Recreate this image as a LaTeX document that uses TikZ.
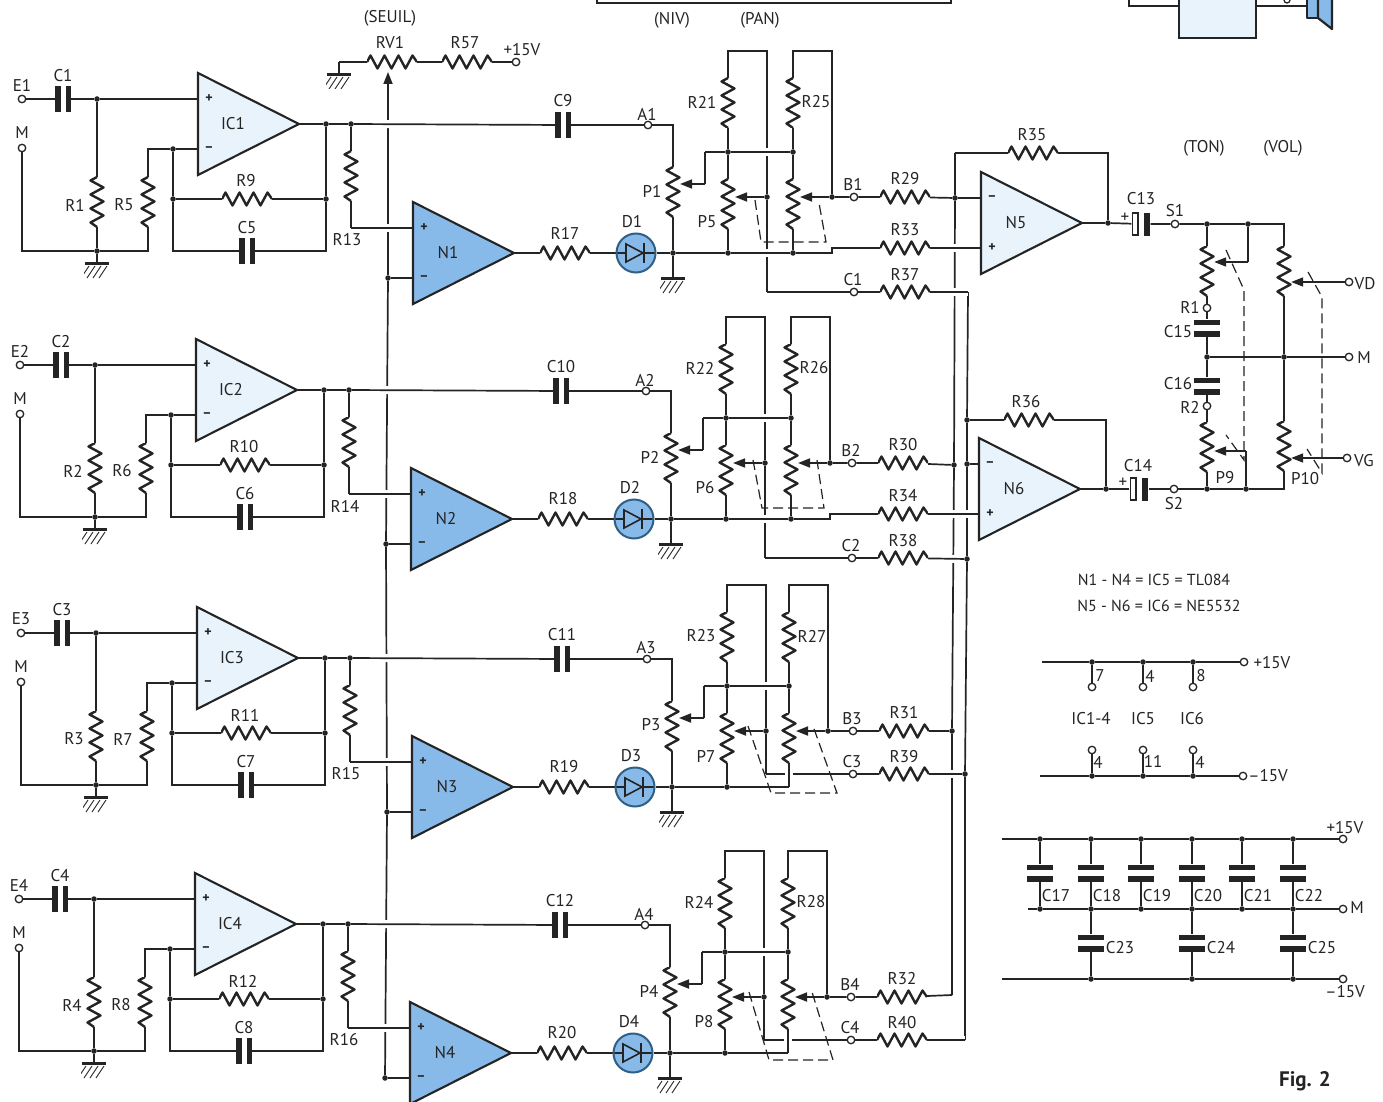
\documentclass[tikz,border=0pt]{standalone}
\usepackage{fontspec}
\setmainfont{PT Sans}
\usetikzlibrary{arrows.meta,calc}
\definecolor{ink}{HTML}{242424}
\definecolor{opblue}{HTML}{88BAE9}
\definecolor{oplight}{HTML}{E8F3FB}
\definecolor{dioline}{HTML}{2F5F85}
\pgfdeclarelayer{buslayer}\pgfdeclarelayer{wirelayer}
\pgfsetlayers{buslayer,wirelayer,main}
\newcounter{lb}
\newcommand\lbl[3]{\stepcounter{lb}\node[txt] (lab\arabic{lb}) at (#1,#2) {#3};}
% name, left x, centre y, fill, top sign, bottom sign, label
\newcommand\opamp[7]{%
  \draw[line width=2.1pt,draw=ink,fill=#4,line join=miter] (#2,#3-51) -- (#2,#3+51) -- (#2+101,#3) -- cycle;
  \coordinate (#1-t) at (#2,#3-25);
  \coordinate (#1-b) at (#2,#3+25);
  \coordinate (#1-o) at (#2+101,#3);
  \lbl{#2+11}{#3-25}{\fontsize{14}{14}\selectfont\bfseries #5}
  \lbl{#2+11}{#3+25}{\fontsize{14}{14}\selectfont\bfseries #6}
  \lbl{#2+35}{#3}{#7}
}
\tikzset{
  txt/.style={inner sep=0pt,font=\fontsize{17}{19}\selectfont,text=ink},
  wire/.style={line width=1.7pt,draw=ink},
  halo/.style={preaction={draw=white,line width=8pt}},
  arrowed/.style={wire,-{Triangle[length=12pt,width=9pt]}},
  term/.style={circle,draw=ink,fill=white,line width=1.3pt,inner sep=0pt,minimum size=7.5pt},
  jdot/.style={circle,fill=ink,inner sep=0pt,minimum size=5.5pt},
  hres/.style={rectangle,inner sep=0pt,minimum width=50pt,minimum height=20pt,
    path picture={\draw[line width=2.4pt,draw=ink,line join=round]
      ([xshift=-25pt]path picture bounding box.center) -- ++(3.5,-6.5) -- ++(7,13) -- ++(7,-13) -- ++(7,13) -- ++(7,-13) -- ++(7,13) -- ++(7,-13) -- ++(4.5,6.5);}},
  vres/.style={rectangle,inner sep=0pt,minimum width=18pt,minimum height=50pt,
    path picture={\draw[line width=2.4pt,draw=ink,line join=round]
      ([yshift=25pt]path picture bounding box.center) -- ++(-6.5,3.5) -- ++(13,7) -- ++(-13,7) -- ++(13,7) -- ++(-13,7) -- ++(13,7) -- ++(-13,7) -- ++(6.5,4.5);}},
  hcap/.style={rectangle,inner sep=0pt,minimum width=16pt,minimum height=26pt,
    path picture={\fill[ink] ([shift={(-8,-13)}]path picture bounding box.center) rectangle ++(5.5,26);
      \fill[ink] ([shift={(2.5,-13)}]path picture bounding box.center) rectangle ++(5.5,26);}},
  vcap/.style={rectangle,inner sep=0pt,minimum width=26pt,minimum height=17pt,
    path picture={\fill[ink] ([shift={(-13,-8.5)}]path picture bounding box.center) rectangle ++(26,5.5);
      \fill[ink] ([shift={(-13,3)}]path picture bounding box.center) rectangle ++(26,5.5);}},
  pcap/.style={rectangle,inner sep=0pt,minimum width=19pt,minimum height=24pt,
    path picture={\draw[ink,line width=1.3pt] ([shift={(-8.5,-11)}]path picture bounding box.center) rectangle ++(5.5,22);
      \fill[ink] ([shift={(2.5,-11.5)}]path picture bounding box.center) rectangle ++(6,23);}},
  gnd/.style={rectangle,inner sep=0pt,minimum width=26pt,minimum height=16pt,
    path picture={\draw[ink,line width=3pt] ([shift={(-12,-6.5)}]path picture bounding box.center) -- ++(24,0);
      \foreach \hx in {-8,-2,4,10}{\draw[ink,line width=.9pt] ([shift={(\hx,-4)}]path picture bounding box.center) -- ++(-8,12);}}},
  diode/.style={circle,inner sep=0pt,minimum size=39pt,fill=opblue,draw=dioline,line width=2pt,
    path picture={
      \draw[ink,line width=1.6pt] ([shift={(-10,-9)}]path picture bounding box.center) -- ++(0,18) -- ++(17,-9) -- cycle;
      \draw[ink,line width=2.8pt] ([shift={(8,-10)}]path picture bounding box.center) -- ++(0,20);
      \draw[ink,line width=1.7pt] ([shift={(-20,0)}]path picture bounding box.center) -- ++(10,0);
      \draw[ink,line width=1.7pt] ([shift={(7,0)}]path picture bounding box.center) -- ++(13,0);}},
  dashl/.style={draw=ink,line width=1.2pt,dash pattern=on 10pt off 5pt},
}
\begin{document}
\begin{tikzpicture}[x=1pt,y=-1pt]
\useasboundingbox (0,0) rectangle (1383,1102);
\begin{pgfonlayer}{buslayer}
\fill[white] (0,0) rectangle (1383,1102);
\end{pgfonlayer}
% clipped drawings at the top edge
\draw[line width=2.4pt,draw=ink] (597,0) -- (597,3) -- (951,3) -- (951,0);
\draw[wire] (1129,0) -- (1129,6) -- (1179,6);
\draw[line width=2.2pt,draw=ink,fill=oplight] (1179,0) -- (1179,38) -- (1256,38) -- (1256,0);
\draw[wire] (1256,6) -- (1307,6);
\draw[line width=1.3pt,draw=ink] (1287,0) circle (3pt);
\draw[line width=2.2pt,draw=ink,fill=opblue,line join=round] (1307,0) -- (1307,18) -- (1318,18) -- (1318,0);
\draw[line width=2.2pt,draw=ink,fill=opblue,line join=round] (1318,0) -- (1318,18) -- (1332,29) -- (1332,0);
\lbl{390}{18}{(SEUIL)}
\lbl{672}{20}{(NIV)}
\lbl{760}{20}{(PAN)}
\lbl{1204}{148}{(TON)}
\lbl{1283}{148}{(VOL)}
% threshold divider
\node[gnd] (Gv) at (339,81) {};
\coordinate (cGv) at (339,62);
\node[hres] (RV1) at (392,62) {};
\node[hres] (R57) at (467,62) {};
\node[term] (tV) at (516,62) {};
\coordinate (tipV) at (388,72);
\lbl{390}{43}{RV1}
\lbl{465}{43}{R57}
\lbl{522}{50}{+15V}
% output amplifiers
\opamp{N5}{981}{223}{oplight}{–}{+}{N5}
\opamp{N6}{979}{489}{oplight}{–}{+}{N6}
% bus nodes
\node[jdot] (busB1) at (955,198) {};
\node[jdot] (busB2) at (954,465) {};
\node[jdot] (busB3) at (952,731) {};
\coordinate (busB4) at (952,995);
\coordinate (busC1) at (968,292);
\node[jdot] (busC2) at (967,559) {};
\node[jdot] (busC3) at (965,774) {};
\coordinate (busC4) at (965,1040);
\node[jdot] (busF6) at (967,420) {};
\node[jdot] (busI6) at (967,464) {};
\coordinate (busF5) at (955,153);
% channels
\foreach \n/\dx/\dy/\rx in {1/0/0/793,2/-2/266/793,3/-1/534/790,4/-3/800/791}{
\pgfmathtruncatemacro\rA{\n+4}
\pgfmathtruncatemacro\rB{\n+8}
\pgfmathtruncatemacro\rC{\n+12}
\pgfmathtruncatemacro\rD{\n+16}
\pgfmathtruncatemacro\rE{\n+20}
\pgfmathtruncatemacro\rF{\n+24}
\pgfmathtruncatemacro\rG{\n+28}
\pgfmathtruncatemacro\rH{\n+32}
\pgfmathtruncatemacro\rI{\n+36}
\ifnum\n<3 \def\cy{292}\else\def\cy{240}\fi
\begin{scope}[shift={(\dx,\dy)}]
  \node[term] (tE\n) at (22,99) {};
  \node[term] (tM\n) at (22,148) {};
  \node[hcap] (C\n) at (63,99) {};
  \node[jdot] (jA\n) at (97,99) {};
  \node[vres] (R\n) at (97,202) {};
  \node[vres] (R\rA) at (148,202) {};
  \node[jdot] (jG\n) at (97,251) {};
  \coordinate (cM\n) at (22,251);
  \coordinate (cRr\n) at (148,251);
  \coordinate (cRt\n) at (148,149);
  \node[gnd] (Ga\n) at (97,270) {};
  \opamp{IC\n}{198}{124}{oplight}{+}{–}{IC\n}
  \node[jdot] (jM\n) at (173,149) {};
  \node[jdot] (jFb\n) at (173,199) {};
  \node[jdot] (jFo\n) at (326,199) {};
  \node[hres] (R\rB) at (247,199) {};
  \node[hcap] (C\rA) at (247,251) {};
  \coordinate (cCa\n) at (173,251);
  \coordinate (cCb\n) at (326,251);
  \node[jdot] (jO\n) at (326,124) {};
  \node[jdot] (jOs\n) at (351,124) {};
  \node[vres] (R\rC) at (351,176) {};
  \coordinate (cI\n) at (351,228);
  \opamp{N\n}{413}{253}{opblue}{+}{–}{N\n}
  \node[jdot] (jN\n) at (388,278) {};
  \node[hres] (R\rD) at (565,253) {};
  \node[diode] (D\n) at (636,253) {};
  \node[jdot] (jP\n) at (673,253) {};
  \node[gnd] (Gb\n) at (673,285) {};
  \node[hcap] (C\rB) at (563,125) {};
  \node[term] (tA\n) at (648,125) {};
  \coordinate (cA\n) at (673,125);
  \node[vres] (P\n) at (673,192) {};
  \coordinate (wP\n) at (680,184);
  \node[vres] (R\rE) at (728,103) {};
  \node[vres] (R\rF) at (\rx,103) {};
  \coordinate (tLa\n) at (728,51);
  \coordinate (tLb\n) at (767,51);
  \coordinate (tRa\n) at (\rx,51);
  \coordinate (tRb\n) at (\rx+39,51);
  \node[jdot] (jXa\n) at (728,152) {};
  \node[jdot] (jXb\n) at (\rx,152) {};
  \coordinate (cX\n) at (705,152);
  \coordinate (cW\n) at (705,184);
  \node[vres] (P\rA) at (728,204) {};
  \node[vres] (Pr\n) at (\rx,204) {};
  \node[jdot] (jRa\n) at (728,253) {};
  \node[jdot] (jWa\n) at (767,197) {};
  \node[jdot] (jWb\n) at (\rx+39,197) {};
  \coordinate (wa\n) at (735,197);
  \coordinate (wb\n) at (\rx+7,197);
  \node[term] (tB\n) at (854,197) {};
  \node[hres] (R\rG) at (905,197) {};
  \coordinate (cLow\n) at (767,\cy);
  \node[term] (tC\n) at (854,\cy) {};
  \node[hres] (R\rI) at (905,\cy) {};
  % labels
  \lbl{22}{85}{E\n}
  \lbl{22}{133}{M}
  \lbl{63}{76}{C\n}
  \lbl{75}{205}{R\n}
  \lbl{124}{205}{R\rA}
  \lbl{246}{181}{R\rB}
  \lbl{247}{228}{C\rA}
  \lbl{347}{240}{R\rC}
  \lbl{565}{233}{R\rD}
  \lbl{632}{222}{D\n}
  \lbl{563}{101}{C\rB}
  \lbl{647}{114}{A\n}
  \lbl{652}{191}{P\n}
  \lbl{702}{102}{R\rE}
  \lbl{\rx+23}{102}{R\rF}
  \lbl{707}{222}{P\rA}
  \lbl{853}{185}{B\n}
  \lbl{905}{179}{R\rG}
  \ifnum\n<3
    \lbl{853}{280}{C\n}
    \lbl{905}{275}{R\rI}
  \else
    \lbl{853}{228}{C\n}
    \lbl{905}{223}{R\rI}
  \fi
  \begin{pgfonlayer}{buslayer}
    \draw[wire] (R\rE) -- (tLa\n) -- (tLb\n) -- (jWa\n) -- (cLow\n);
  \end{pgfonlayer}
  \begin{pgfonlayer}{wirelayer}
    % wires that interrupt those they cross come first
    \draw[wire,halo] (jOs\n) -- (C\rB);
    \draw[wire,halo] (cI\n) -- (N\n-t);
    \draw[wire,halo] (cX\n) -- (jXa\n) -- (jXb\n);
    \draw[wire] (jP\n) -- (jRa\n);
    \ifnum\n<3
      \node[jdot] (jRb\n) at (\rx,253) {};
      \coordinate (cRs\n) at (\rx+39,253);
      \coordinate (cRu\n) at (\rx+39,248);
      \node[hres] (R\rH) at (905,248) {};
      \lbl{905}{230}{R\rH}
      \pgfmathtruncatemacro\oa{\n+4}
      \draw[wire,halo] (jRa\n) -- (jRb\n) -- (cRs\n) -- (cRu\n) -- (R\rH) -- (N\oa-b);
      \draw[wire,halo] (R\rI) -- (busC\n);
      \draw[wire] (Pr\n) -- (jRb\n);
      \draw[wire] (cLow\n) -- (tC\n) -- (R\rI);
    \else
      \coordinate (cR\n) at (\rx,253);
      \draw[wire,halo] (R\rI) -- (busC\n);
      \draw[wire] (cLow\n) -- (tC\n) -- (R\rI);
      \draw[wire,halo] (Pr\n) -- (cR\n);
      \draw[wire] (jRa\n) -- (cR\n);
    \fi
    \draw[wire] (tE\n) -- (C\n) -- (jA\n) -- (IC\n-t);
    \draw[wire] (jA\n) -- (R\n) -- (jG\n);
    \draw[wire] (tM\n) -- (cM\n) -- (jG\n) -- (cRr\n) -- (R\rA);
    \draw[wire] (R\rA) -- (cRt\n) -- (jM\n) -- (IC\n-b);
    \draw[wire] (jM\n) -- (jFb\n) -- (cCa\n) -- (C\rA) -- (cCb\n) -- (jFo\n) -- (jO\n);
    \draw[wire] (jFb\n) -- (R\rB) -- (jFo\n);
    \draw[wire] (IC\n-o) -- (jO\n) -- (jOs\n) -- (R\rC) -- (cI\n);
    \draw[wire] (jG\n) -- (Ga\n);
    \draw[wire] (N\n-o) -- (R\rD) -- (D\n) -- (jP\n) -- (Gb\n);
    \draw[wire] (jN\n) -- (N\n-b);
    \draw[wire] (C\rB) -- (tA\n) -- (cA\n) -- (P\n) -- (jP\n);
    \draw[wire] (cX\n) -- (cW\n);
    \draw[arrowed] (cW\n) -- (wP\n);
    \draw[wire] (R\rE) -- (jXa\n) -- (P\rA) -- (jRa\n);
    \draw[wire] (R\rF) -- (jXb\n) -- (Pr\n);
    \draw[wire] (R\rF) -- (tRa\n) -- (tRb\n) -- (jWb\n) -- (tB\n) -- (R\rG) -- (busB\n);
    \draw[arrowed] (jWa\n) -- (wa\n);
    \draw[arrowed] (jWb\n) -- (wb\n);
  \end{pgfonlayer}
\end{scope}
}
% output stage nodes
\node[hres] (R35) at (1033,153) {};
\lbl{1032}{135}{R35}
\coordinate (cF5) at (1108,153);
\node[jdot] (jF5) at (1108,223) {};
\node[pcap] (C13) at (1141,224) {};
\node[term] (tS1) at (1175,224) {};
\node[jdot] (jT1) at (1207,224) {};
\node[jdot] (jT2) at (1248,224) {};
\coordinate (cT3) at (1284,224);
\coordinate (cT4) at (1248,262);
\node[vres] (P9a) at (1207,271) {};
\node[vres] (P10a) at (1284,271) {};
\node[term] (tR1) at (1207,308) {};
\node[vcap] (C15) at (1207,328) {};
\node[jdot] (jM0) at (1207,357) {};
\node[jdot] (jM1) at (1284,357) {};
\node[term] (tMo) at (1349,357) {};
\node[vcap] (C16) at (1207,386) {};
\node[term] (tR2) at (1207,406) {};
\node[vres] (P9b) at (1207,447) {};
\node[vres] (P10b) at (1284,446) {};
\coordinate (cT5) at (1246,451);
\node[term] (tVD) at (1349,282) {};
\node[term] (tVG) at (1347,458) {};
\node[hres] (R36) at (1029,420) {};
\lbl{1026}{402}{R36}
\coordinate (cF6) at (1106,420);
\node[jdot] (jF6) at (1106,489) {};
\node[pcap] (C14) at (1139,489) {};
\node[term] (tS2) at (1174,489) {};
\node[jdot] (jU1) at (1207,489) {};
\node[jdot] (jU2) at (1246,489) {};
\coordinate (cU3) at (1284,489);
\lbl{1141}{199}{C13}
\lbl{1125}{218}{+}
\lbl{1175}{211}{S1}
\lbl{1138}{466}{C14}
\lbl{1123}{483}{+}
\lbl{1174}{504}{S2}
\lbl{1190}{307}{R1}
\lbl{1178}{332}{C15}
\lbl{1178}{384}{C16}
\lbl{1190}{407}{R2}
\lbl{1225}{478}{P9}
\lbl{1305}{479}{P10}
\lbl{1365}{284}{VD}
\lbl{1364}{358}{M}
\lbl{1364}{461}{VG}
\begin{pgfonlayer}{buslayer}
  \draw[wire] (cGv) -- (Gv);
  \draw[wire] (cGv) -- (RV1) -- (R57) -- (tV);
  \draw[wire] (jN4) -- (jN3) -- (jN2) -- (jN1);
  \draw[arrowed] (jN1) -- (tipV);
  \draw[wire] (busF5) -- (busB1) -- (busB2) -- (busB3) -- (busB4);
  \draw[wire] (busC1) -- (busF6) -- (busI6) -- (busC2) -- (busC3) -- (busC4);
\end{pgfonlayer}
\begin{pgfonlayer}{wirelayer}
  \draw[wire] (busF5) -- (R35) -- (cF5) -- (jF5);
  \draw[wire] (busB1) -- (N5-t);
  \draw[wire] (N5-o) -- (jF5) -- (C13) -- (tS1) -- (jT1) -- (jT2) -- (cT3) -- (P10a);
  \draw[wire] (jT1) -- (P9a) -- (tR1) -- (C15) -- (jM0) -- (C16) -- (tR2) -- (P9b) -- (jU1);
  \draw[wire] (P10a) -- (jM1) -- (P10b) -- (cU3) -- (jU2) -- (jU1) -- (tS2) -- (C14) -- (jF6) -- (N6-o);
  \draw[wire] (jM0) -- (jM1) -- (tMo);
  \draw[wire] (jT2) -- (cT4);
  \draw[arrowed] (cT4) -- ($(P9a.east)+(-2,-9)$);
  \draw[wire] (jU2) -- (cT5);
  \draw[arrowed] (cT5) -- ($(P9b.east)+(-2,4)$);
  \draw[arrowed] (tVD) -- ($(P10a.east)+(-2,11)$);
  \draw[arrowed] (tVG) -- ($(P10b.east)+(-2,12)$);
  \draw[wire] (busF6) -- (R36) -- (cF6) -- (jF6);
  \draw[wire] (busI6) -- (N6-t);
\end{pgfonlayer}
% ganged-control dashes
\draw[dashl] (755,200) -- (761,242) -- (826,242) -- (819,203);
\draw[dashl] (753,460) -- (762,508) -- (824,508) -- (817,460);
\draw[dashl] (748,726) -- (771,793) -- (837,793) -- (813,726);
\draw[dashl] (749,992) -- (769,1060) -- (833,1060) -- (812,992);
\draw[dashl] (1226,250) -- (1244,290) -- (1244,460) -- (1226,435);
\draw[dashl] (1308,272) -- (1322,297) -- (1322,473) -- (1307,449);
% notes
\node[txt,font=\fontsize{16}{18}\selectfont] (noteA) at (1154,580) {N1 - N4 = IC5 = TL084};
\node[txt,font=\fontsize{16}{18}\selectfont] (noteB) at (1159,606) {N5 - N6 = IC6 = NE5532};
% supply pins
\coordinate (sA) at (1042,662);
\node[jdot] (sA1) at (1092,662) {};
\node[jdot] (sA2) at (1143,662) {};
\node[jdot] (sA3) at (1193,662) {};
\node[term] (sAt) at (1244,662) {};
\node[term] (pA1) at (1092,687) {};
\node[term] (pA2) at (1143,687) {};
\node[term] (pA3) at (1193,687) {};
\coordinate (sB) at (1040,776);
\node[jdot] (sB1) at (1092,776) {};
\node[jdot] (sB2) at (1143,776) {};
\node[jdot] (sB3) at (1193,776) {};
\node[term] (sBt) at (1243,776) {};
\node[term] (pB1) at (1092,750) {};
\node[term] (pB2) at (1143,750) {};
\node[term] (pB3) at (1193,750) {};
\lbl{1100}{676}{7}
\lbl{1150}{676}{4}
\lbl{1201}{676}{8}
\lbl{1272}{663}{+15V}
\lbl{1091}{719}{IC1-4}
\lbl{1143}{719}{IC5}
\lbl{1192}{719}{IC6}
\lbl{1098}{762}{4}
\lbl{1153}{761}{11}
\lbl{1200}{762}{4}
\lbl{1268}{776}{–15V}
\draw[wire] (sA) -- (sA1) -- (sA2) -- (sA3) -- (sAt);
\draw[wire] (sA1) -- (pA1);
\draw[wire] (sA2) -- (pA2);
\draw[wire] (sA3) -- (pA3);
\draw[wire] (sB) -- (sB1) -- (sB2) -- (sB3) -- (sBt);
\draw[wire] (sB1) -- (pB1);
\draw[wire] (sB2) -- (pB2);
\draw[wire] (sB3) -- (pB3);
% decoupling
\coordinate (dP) at (1002,839);
\coordinate (dM) at (1028,909);
\coordinate (dN) at (1002,979);
\node[term] (dPt) at (1343,839) {};
\node[term] (dMt) at (1343,909) {};
\node[term] (dNt) at (1343,979) {};
\foreach \i/\xx in {17/1040,18/1091,19/1141,20/1192,21/1242,22/1293}{
  \node[jdot] (dP\i) at (\xx,839) {};
  \node[vcap] (C\i) at (\xx,873) {};
  \node[jdot] (dM\i) at (\xx,909) {};
  \lbl{\xx+16}{896}{C\i}
  \draw[wire] (dP\i) -- (C\i) -- (dM\i);
}
\foreach \i/\xx in {23/1091,24/1192,25/1293}{
  \node[vcap] (C\i) at (\xx,943) {};
  \node[jdot] (dN\i) at (\xx,979) {};
  \lbl{\xx+29}{948}{C\i}
}
\draw[wire] (dM18) -- (C23) -- (dN23);
\draw[wire] (dM20) -- (C24) -- (dN24);
\draw[wire] (dM22) -- (C25) -- (dN25);
\draw[wire] (dP) -- (dP17) -- (dP18) -- (dP19) -- (dP20) -- (dP21) -- (dP22) -- (dPt);
\draw[wire] (dM) -- (dM17) -- (dM18) -- (dM19) -- (dM20) -- (dM21) -- (dM22) -- (dMt);
\draw[wire] (dN) -- (dN23) -- (dN24) -- (dN25) -- (dNt);
\lbl{1345}{828}{+15V}
\lbl{1357}{908}{M}
\lbl{1345}{992}{–15V}
\node[txt,font=\fontsize{21}{23}\selectfont\bfseries] (figlab) at (1305,1081) {Fig. 2};
\end{tikzpicture}
\end{document}
